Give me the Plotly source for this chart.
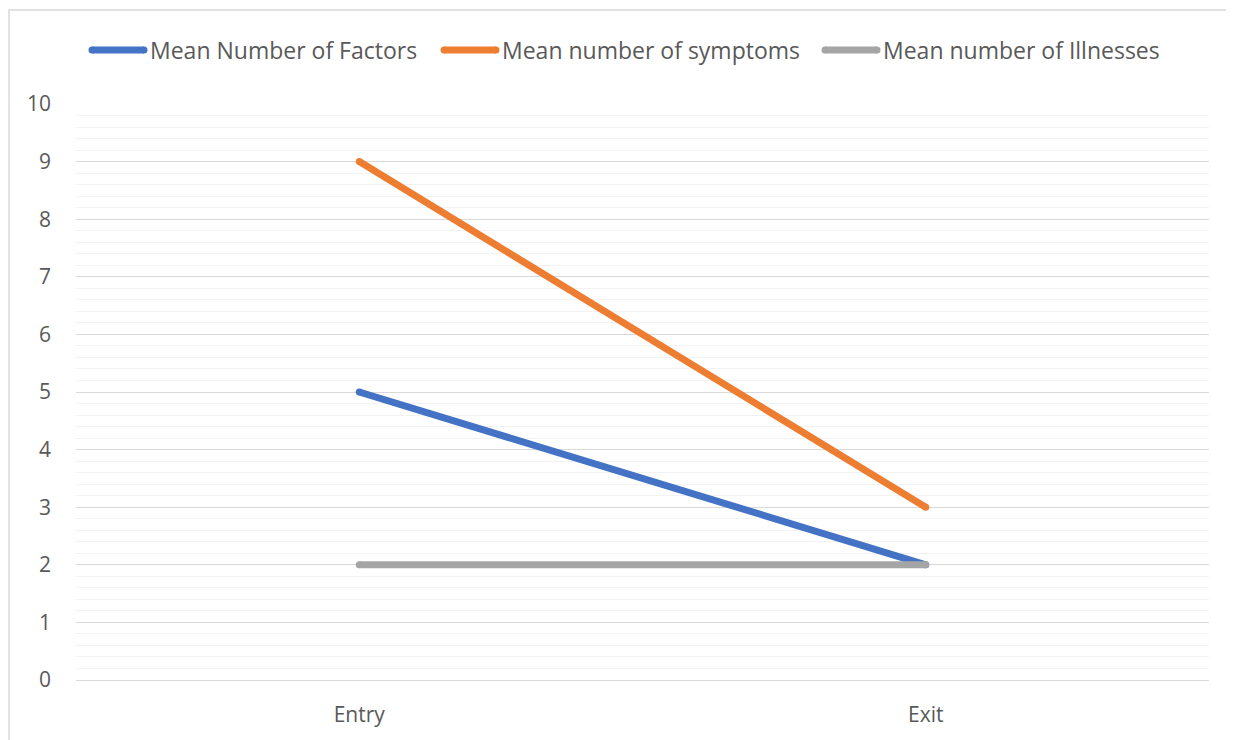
import plotly.graph_objects as go

categories = ["Entry", "Exit"]
factors = [5, 2]
symptoms = [9, 3]
illnesses = [2, 2]
names = ["Mean Number of Factors", "Mean number of symptoms", "Mean number of Illnesses"]
colors = ["#4472C4", "#ED7D31", "#A5A5A5"]

OFF = 8  # page body margin
W, H = 1234 - OFF, 740 - OFF
# plot area in page pixels: x 76..1209, y 104..680
PL, PR, PT, PB = 76, 1209, 104, 680
L, T = PL - OFF, PT - OFF
R = W - (PR - OFF)
B = H - (PB - OFF)
pw, ph = PR - PL, PB - PT
LW = 7

def px(x):
    return (x - PL) / pw

def py(y):
    return (PB - y) / ph

fig = go.Figure()
for name, vals, c in zip(names, [factors, symptoms, illnesses], colors):
    fig.add_trace(go.Scatter(x=categories, y=vals, mode="lines+markers", name=name,
                             line=dict(color=c, width=LW),
                             marker=dict(color=c, size=LW, line=dict(width=0)),
                             showlegend=False))

shapes = []
annotations = []
# chart border
shapes.append(dict(type="rect", xref="paper", yref="paper",
                   x0=px(OFF + 1), x1=px(1240), y0=py(760), y1=py(10),
                   line=dict(color="#D9D9D9", width=1.5), layer="below"))
# manual legend
leg_x = [89, 441, 822]
r = LW / 2
for name, c, lx in zip(names, colors, leg_x):
    x0, x1 = lx + 3, lx + 55
    shapes.append(dict(type="line", xref="paper", yref="paper",
                       x0=px(x0), x1=px(x1), y0=py(50), y1=py(50),
                       line=dict(color=c, width=LW)))
    for xe in (x0, x1):
        shapes.append(dict(type="circle", xref="paper", yref="paper",
                           x0=px(xe - r), x1=px(xe + r), y0=py(50 + r), y1=py(50 - r),
                           fillcolor=c, line=dict(width=0)))
    annotations.append(dict(xref="paper", yref="paper", x=px(lx + 59), y=py(50),
                            text=name, showarrow=False, xanchor="left", yanchor="middle",
                            font=dict(size=23, color="#595959", family="Open Sans")))

fig.update_layout(
    width=W, height=H,
    margin=dict(l=L, r=R, t=T, b=B),
    paper_bgcolor="white", plot_bgcolor="white",
    font=dict(family="Open Sans", size=21, color="#595959"),
    shapes=shapes, annotations=annotations,
    xaxis=dict(range=[-0.5, 1.5], showgrid=False, zeroline=False, showline=False,
               ticks="", ticklabelstandoff=20, tickfont=dict(size=21, color="#595959")),
    yaxis=dict(range=[0, 10], dtick=1, showgrid=True, gridcolor="#D9D9D9", gridwidth=1.3,
               zeroline=True, zerolinecolor="#D9D9D9", zerolinewidth=1.3,
               showline=False, ticks="", ticklabelstandoff=24,
               tickfont=dict(size=21, color="#595959"),
               minor=dict(dtick=0.2, showgrid=True, gridcolor="#F2F2F2", gridwidth=1)),
)

fig.write_html("out.html")
